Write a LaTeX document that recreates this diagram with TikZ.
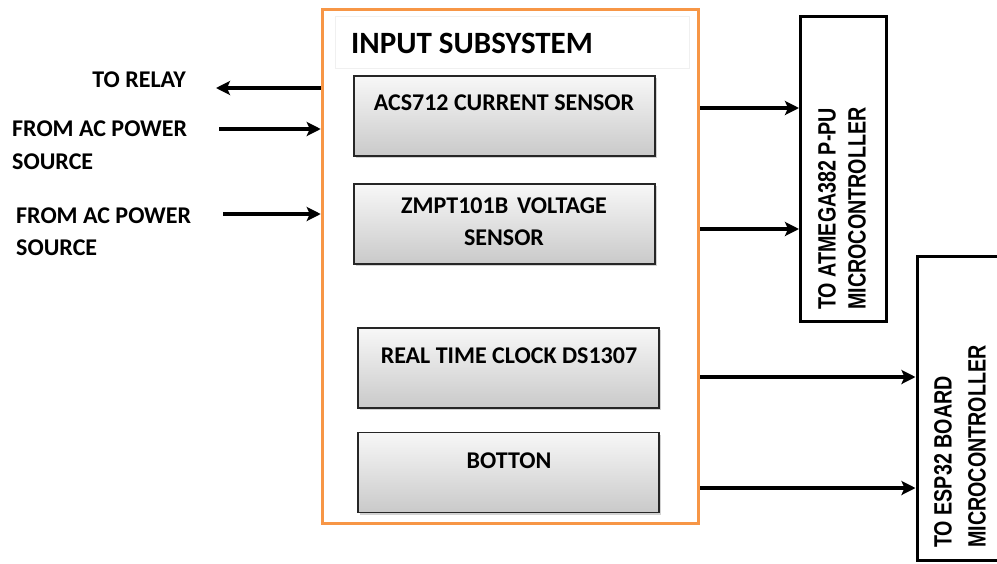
\documentclass[tikz,border=0pt]{standalone}
\usepackage{fontspec}
\setmainfont{Carlito}
\newfontfamily\arialfont{Liberation Sans}
\usetikzlibrary{shadows,arrows.meta}
\definecolor{orangeb}{HTML}{F79646}
\begin{document}
\begin{tikzpicture}[x=1pt,y=-1pt,
  sub/.style={draw=black!85, line width=1.8pt, top color=gray!6, bottom color=gray!42,
    drop shadow={shadow xshift=2pt,shadow yshift=-2pt,opacity=0.35},
    minimum width=301pt, minimum height=80pt, inner sep=0pt},
  arr/.style={line width=3.5pt, -{Stealth[length=14pt,width=14pt,inset=3pt]}},
  lbl/.style={font=\fontsize{24}{28}\selectfont\bfseries, inner sep=0pt},
  mcu/.style={draw=black, line width=3pt, inner sep=0pt},
  rot/.style={rotate=90, anchor=west, inner sep=0pt, font=\arialfont\bfseries\fontsize{19.7}{24}\selectfont}]
\useasboundingbox (0,0) rectangle (997,563);
\fill[white] (0,0) rectangle (997,563);

% container
\node[draw=orangeb, line width=3.5pt, minimum width=376pt, minimum height=514pt, inner sep=0pt] (inbox) at (510.5,266.5) {};
\node[draw=gray!12, line width=1pt, minimum width=354pt, minimum height=52pt, inner sep=0pt] (title) at (512,42) {};
\node[anchor=west, inner sep=0pt, font=\fontsize{31}{36}\selectfont\bfseries] (titlet) at (351,43) {INPUT SUBSYSTEM};

% sub blocks
\node[sub] (acs) at (504.5,116) {};
\node[sub] (zmpt) at (504.5,224) {};
\node[sub] (rtc) at (508.5,368) {};
\node[sub] (btn) at (508.5,472.5) {};
\node[lbl] (acst) at (504,103) {ACS712 CURRENT SENSOR};
\node[lbl] (zt1) at (504,206) {ZMPT101B\hspace{0.15em} VOLTAGE};
\node[lbl] (zt2) at (504,238) {SENSOR};
\node[lbl] (rtct) at (509,356) {REAL TIME CLOCK DS1307};
\node[lbl] (btnt) at (509,461) {BOTTON};

% microcontrollers
\node[mcu, minimum width=86pt, minimum height=305pt] (atm) at (843.5,169) {};
\node[mcu, minimum width=90pt, minimum height=304pt] (esp) at (962,408.5) {};
\node[rot] (a1) at (827,310) {\scalebox{1}[1.27]{TO ATMEGA382 P-PU}};
\node[rot] (a2) at (857,310) {\scalebox{1}[1.27]{MICROCONTROLLER}};
\node[rot] (e1) at (943,548) {\scalebox{1}[1.27]{TO ESP32 BOARD}};
\node[rot] (e2) at (977,548) {\scalebox{1}[1.27]{MICROCONTROLLER}};

% left labels
\node[lbl, anchor=east] (trl) at (186,80) {TO RELAY};
\node[lbl, anchor=west] (f1a) at (12,129) {FROM AC POWER};
\node[lbl, anchor=west] (f1b) at (12,162) {SOURCE};
\node[lbl, anchor=west] (f2a) at (16,216) {FROM AC POWER};
\node[lbl, anchor=west] (f2b) at (16,248) {SOURCE};

% connectors
\coordinate (relay) at (216,88);
\coordinate (src1) at (219,129);
\coordinate (src2) at (223,214);
\draw[arr] (inbox.west |- relay) -- (relay);
\draw[arr] (src1) -- (inbox.west |- src1);
\draw[arr] (src2) -- (inbox.west |- src2);
\draw[arr] (inbox.east |- 0,108) -- (atm.west |- 0,108);
\draw[arr] (inbox.east |- 0,229) -- (atm.west |- 0,229);
\draw[arr] (inbox.east |- 0,377) -- (esp.west |- 0,377);
\draw[arr] (inbox.east |- 0,488) -- (esp.west |- 0,488);
\end{tikzpicture}
\end{document}
